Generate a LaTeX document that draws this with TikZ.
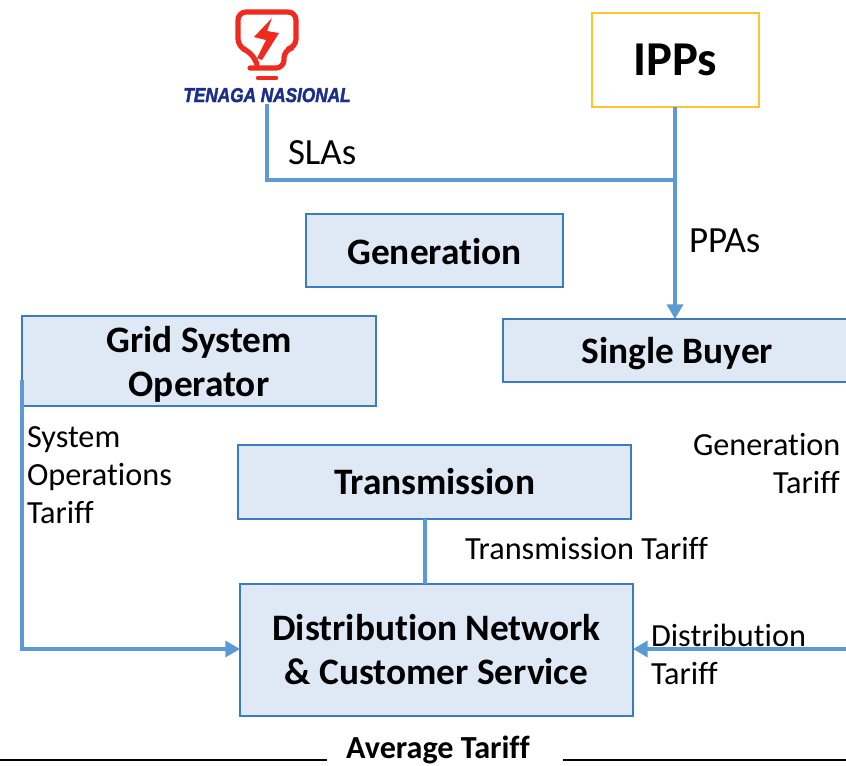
\documentclass[tikz,border=0pt]{standalone}
\usepackage{fontspec}
\setmainfont{Carlito}[Ligatures=NoCommon]
\newfontfamily\logofont{Liberation Sans}[BoldItalicFeatures={FakeBold=2.4}]
\usetikzlibrary{arrows.meta}
\definecolor{boxfill}{HTML}{DEE9F5}
\definecolor{boxline}{HTML}{3A7CBD}
\definecolor{conn}{HTML}{5B9BD5}
\definecolor{ippline}{HTML}{FFC52F}
\definecolor{logored}{HTML}{F02A1E}
\definecolor{logoblue}{HTML}{1A2F8A}
\newcommand{\tallstrut}{\rule{0pt}{24pt}}
\tikzset{
  x=0.75pt,y=-0.75pt,
  blockbox/.style={draw=boxline,fill=boxfill,line width=2pt,inner sep=0pt,outer sep=0pt,align=center,font=\fontsize{28}{33}\selectfont\bfseries},
  conline/.style={draw=conn,line width=2.6pt},
  conarrow/.style={conline,-{Triangle[length=11pt,width=12pt]}},
  lab/.style={inner sep=0pt,outer sep=0pt,anchor=base west,font=\fontsize{27.7}{33}\selectfont},
  smalllab/.style={lab,font=\fontsize{24.2}{28}\selectfont},
  logostroke/.style={draw=logored,line width=3.9pt,line join=round,line cap=round},
  rule/.style={draw=black,line width=1.6pt}
}
\begin{document}
\begin{tikzpicture}
\useasboundingbox (0,0) rectangle (846,765);
\clip (0,0) rectangle (846,765);
% logo
\draw[logostroke,rounded corners=6pt] (257,64) -- (251,52) -- (238,47) -- (238,12) -- (296,12) -- (296,47) -- (284,50) -- (284,68) -- (250,68);
\draw[logostroke,line width=3.4pt] (258,78) -- (276,78);
\fill[logored] (272,18) -- (254,37) -- (266,40) -- (257,58) -- (262,60) -- (279,33) -- (267,31) -- cycle;
\node[inner sep=0pt,outer sep=0pt,anchor=base,text=logoblue,font=\logofont\fontsize{15}{15}\selectfont\bfseries\itshape] (tnb) at (267,102) {\scalebox{.86}[1]{TENAGA NASIONAL}};
\coordinate (tnbfoot) at (267,104);
% boxes
\node[blockbox,draw=ippline,fill=white,minimum width=125.25pt,minimum height=70.5pt,font=\fontsize{36.5}{44}\selectfont\bfseries] (ipp) at (675.5,60) {IPPs};
\node[blockbox,minimum width=192.75pt,minimum height=54.75pt] (gen) at (434.5,250.5) {\rule{0pt}{20.5pt}Generation};
\node[blockbox,minimum width=265.5pt,minimum height=67.5pt] (gso) at (199,361) {\tallstrut Grid System\\Operator};
\node[blockbox,minimum width=261.75pt,minimum height=47.25pt] (sb) at (677.5,350.5) {\tallstrut Single Buyer};
\node[blockbox,minimum width=294.75pt,minimum height=55.5pt] (tr) at (434.5,482) {Transmission};
\node[blockbox,minimum width=294.75pt,minimum height=99pt] (dn) at (436.5,650) {Distribution Network\\\& Customer Service};
% junctions
\coordinate (j1) at (267,180);
\coordinate (j2) at (675,180);
\coordinate (gsoleft) at (22,380);
\coordinate (gsocorner) at (22,649);
\coordinate (rightedge) at (846,649);
% connectors
\draw[conline,line join=miter] (tnbfoot) -- (j1) -- (j2);
\draw[conarrow] (ipp.south -| j2) -- (sb.north -| j2);
\draw[conarrow] (gsoleft) -- (gsocorner) -- (dn.west |- gsocorner);
\draw[conarrow] (rightedge) -- (dn.east |- rightedge);
\draw[conline,line width=3pt] (tr.south -| 425,0) -- (dn.north -| 425,0);
% labels
\node[lab] (slas) at (288,164) {SLAs};
\node[lab] (ppas) at (689,252) {PPAs};
\node[smalllab] (so1) at (27,447) {System};
\node[smalllab] (so2) at (27,485) {Operations};
\node[smalllab] (so3) at (27,523) {Tariff};
\node[smalllab] (gt1) at (693,455) {Generation};
\node[smalllab] (gt2) at (773,493) {Tariff};
\node[smalllab] (tt) at (465,559) {Transmission Tariff};
\node[smalllab] (dt1) at (651,646) {Distribution};
\node[smalllab] (dt2) at (651,684) {Tariff};
% bottom
\node[inner sep=0pt,outer sep=0pt,anchor=base,font=\fontsize{24.1}{28}\selectfont\bfseries] (avg) at (438,758) {Average Tariff};
\coordinate (ruleL) at (0,760);
\coordinate (ruleLe) at (327,760);
\coordinate (ruleR) at (563,760);
\coordinate (ruleRe) at (846,760);
\draw[rule] (ruleL) -- (ruleLe);
\draw[rule] (ruleR) -- (ruleRe);
\end{tikzpicture}
\end{document}
